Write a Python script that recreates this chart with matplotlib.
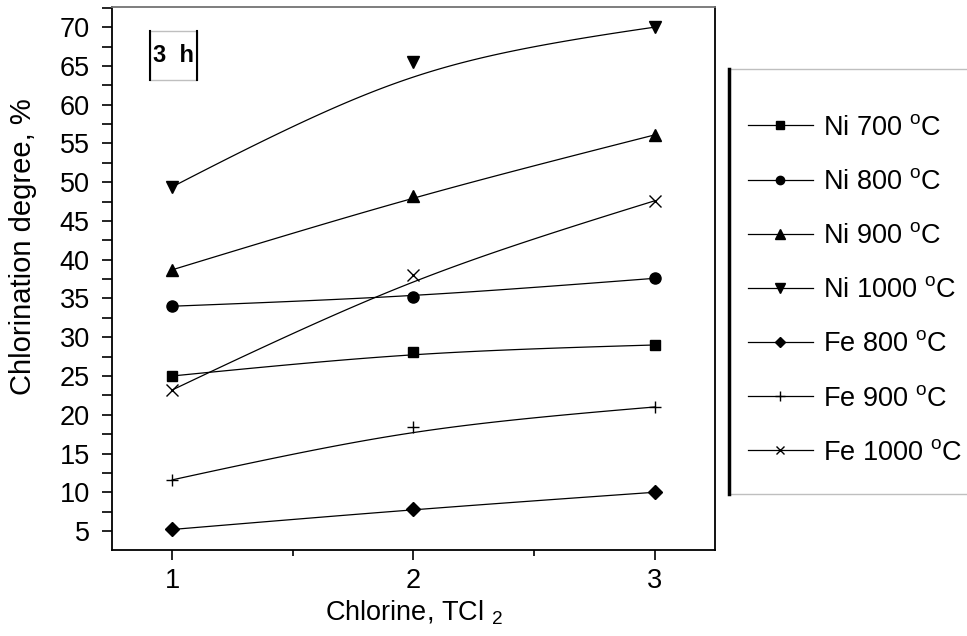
import numpy as np
import matplotlib
matplotlib.use("Agg")
import matplotlib.pyplot as plt
from matplotlib.patches import Rectangle
from matplotlib.lines import Line2D
from matplotlib.ticker import MultipleLocator

plt.rcParams['font.family'] = ['Liberation Sans', 'DejaVu Sans']
plt.rcParams['mathtext.fontset'] = 'custom'
plt.rcParams['mathtext.rm'] = 'Liberation Sans'
plt.rcParams['mathtext.bf'] = 'Liberation Sans:bold'

# data
chlorine = [1, 2, 3]
ni_700 = [25.0, 28.1, 29.0]
ni_800 = [34.0, 35.2, 37.6]
ni_900 = [38.7, 48.2, 56.1]
ni_1000 = [49.4, 65.5, 70.0]
fe_800 = [5.2, 7.8, 10.0]
fe_900 = [11.6, 18.4, 21.0]
fe_1000 = [23.2, 38.0, 47.6]

series = [
    ("Ni 700", ni_700, "s", 7.5),
    ("Ni 800", ni_800, "o", 8),
    ("Ni 900", ni_900, "^", 9),
    ("Ni 1000", ni_1000, "v", 9),
    ("Fe 800", fe_800, "D", 7),
    ("Fe 900", fe_900, "+", 9),
    ("Fe 1000", fe_1000, "x", 8),
]

FS = 19.5


def smooth(xs, ys, w=2.0, n=60):
    # rational quadratic bezier using the 3 points as control points
    t = np.linspace(0, 1, n)
    b0, b1, b2 = (1 - t) ** 2, 2 * w * t * (1 - t), t ** 2
    d = b0 + b1 + b2
    px = (b0 * xs[0] + b1 * xs[1] + b2 * xs[2]) / d
    py = (b0 * ys[0] + b1 * ys[1] + b2 * ys[2]) / d
    return px, py


fig = plt.figure(figsize=(9.67, 6.36), dpi=100)
ax = fig.add_axes([0.1158, 0.1352, 0.6236, 0.8538])

handles = []
for name, vals, mk, ms in series:
    cx, cy = smooth(chlorine, vals)
    ax.plot(cx, cy, color="black", lw=0.9)
    ax.plot(chlorine, vals, linestyle="none", marker=mk, ms=ms, color="black",
            mew=1.0)
    handles.append(Line2D([], [], color="black", lw=0.9, marker=mk, ms=ms * 0.75,
                          mew=1.0, label=name + r" $^{\rm o}$C"))

ax.set_xlim(0.75, 3.25)
ax.set_ylim(2.55, 72.6)
ax.xaxis.set_major_locator(MultipleLocator(1))
ax.xaxis.set_minor_locator(MultipleLocator(0.5))
ax.yaxis.set_major_locator(MultipleLocator(5))
ax.yaxis.set_minor_locator(MultipleLocator(2.5))
ax.tick_params(axis="both", which="both", direction="out", labelsize=FS, width=1.2)
ax.tick_params(axis="x", which="major", length=7, pad=6)
ax.tick_params(axis="x", which="minor", length=4.5)
ax.tick_params(axis="y", which="both", length=7, pad=9)
for s in ["left", "bottom", "right"]:
    ax.spines[s].set_linewidth(1.3)
ax.spines["top"].set_color("0.45")
ax.spines["top"].set_linewidth(1.3)

ax.set_xlabel(r"Chlorine, TCl $_2$", fontsize=FS, labelpad=3)
ax.set_ylabel("Chlorination degree, %", fontsize=21)
ax.yaxis.set_label_coords(-0.125, 0.558)

# "3 h" box
ax.add_patch(Rectangle((0.063, 0.866), 0.078, 0.09, transform=ax.transAxes,
                       fill=False, edgecolor="0.75", lw=1))
ax.plot([0.063, 0.063], [0.866, 0.956], transform=ax.transAxes, color="black", lw=1.5)
ax.plot([0.141, 0.141], [0.866, 0.956], transform=ax.transAxes, color="black", lw=1.5)
ax.text(0.102, 0.911, "3  h", transform=ax.transAxes, ha="center", va="center",
        fontsize=17, fontweight="bold")

# legend box on the right
lx0, ly0, lx1, ly1 = 729 / 967, 1 - 494 / 636, 1.02, 1 - 69 / 636
fig.patches.append(Rectangle((lx0, ly0), lx1 - lx0, ly1 - ly0, transform=fig.transFigure,
                             fill=False, edgecolor="0.75", lw=1))
fig.lines.append(Line2D([lx0, lx0], [ly0, ly1], transform=fig.transFigure,
                        color="black", lw=2.5))
fig.legend(handles=handles, loc="upper left", bbox_to_anchor=(lx0 + 0.008, ly1 - 0.055),
           frameon=False, fontsize=FS, handlelength=2.4, handletextpad=0.37,
           labelspacing=1.04, borderaxespad=0)

fig.savefig("out.png", dpi=100)
